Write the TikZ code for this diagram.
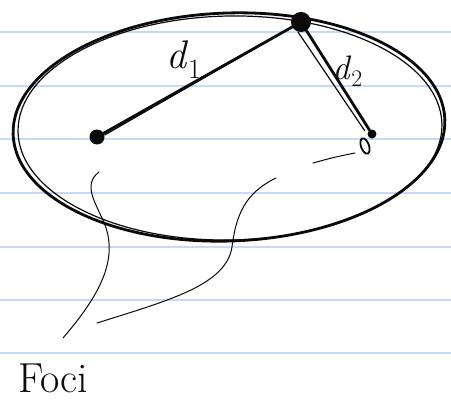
\documentclass[tikz,border=0pt]{standalone}
\usepackage{amsmath,amssymb}
\usepackage{tikz}
\usetikzlibrary{arrows.meta,positioning,calc}
\definecolor{ruleblue}{RGB}{196,218,248}
\definecolor{inkblack}{RGB}{10,10,10}
\tikzset{
  rule/.style={ruleblue, line width=2pt},
  ink/.style={inkblack, line width=2.8pt, line cap=round, line join=round},
  inkthin/.style={inkblack, line width=1.2pt, line cap=round},
  thread/.style={inkblack, line width=1pt, line cap=round},
  fdot/.style={circle, fill=inkblack, inner sep=0pt, minimum size=#1},
  pdot/.style={circle, draw=inkblack, fill=inkblack, line width=3pt, inner sep=0pt, minimum size=17pt},
  hand/.style={text=inkblack, inner sep=0pt},
}

\begin{document}
\begin{tikzpicture}[x=1pt,y=-1pt]
\useasboundingbox (0,0) rectangle (451,402);
\fill[white] (0,0) rectangle (451,402);
% ruled paper
\foreach \y in {32,86,139,193,247,300,353}
  \draw[rule] (0,\y) -- (451,\y);
% the ellipse, two passes
\draw[ink] (229,127) ellipse [x radius=216, y radius=114, rotate=2];
\draw[inkthin] (230,128) ellipse [x radius=212, y radius=112, rotate=1];
% foci and the point on the curve
\node[fdot=15pt] (f1) at (97,137) {};
\node[fdot=9pt] (f2) at (372,134) {};
\draw[inkthin, line width=1.8pt] (365,146) ellipse [x radius=4, y radius=8, rotate=20];
\node[pdot] (p) at (301,22) {};
% distances
\draw[ink] (f1) -- (p) node[hand, pos=0.44, anchor=south, xshift=-3pt, yshift=7pt, font=\fontsize{40}{42}\selectfont] {\textit{d}\textsubscript{1}};
\draw[inkthin] ([yshift=2pt]f1.east) -- ([yshift=3pt]p.south west);
\draw[ink] (p) -- (f2) node[hand, pos=0.38, anchor=west, xshift=1pt, yshift=-3pt, font=\fontsize{34}{36}\selectfont] {\textit{d}\textsubscript{2}};
\draw[inkthin] ([xshift=-3pt]p.south) -- ([xshift=-4pt]f2.north west);
% label and its threads
\node[hand, font=\fontsize{42}{46}\selectfont] (foci) at (53,378) {Foci};
\coordinate (ta) at (63,338);
\coordinate (tb) at (97,323);
\coordinate (ea) at (99,172);
\coordinate (eb) at (276,178);
\coordinate (sc) at (313,163);
\coordinate (se) at (355,153);
\draw[thread] (ta) .. controls (100,295) and (118,260) .. (105,225)
  .. controls (96,203) and (82,185) .. (ea);
\draw[thread] (tb) .. controls (170,300) and (226,285) .. (232,247)
  .. controls (236,215) and (245,193) .. (eb);
\draw[thread] (sc) .. controls (335,157) .. (se);
\end{tikzpicture}
\end{document}
